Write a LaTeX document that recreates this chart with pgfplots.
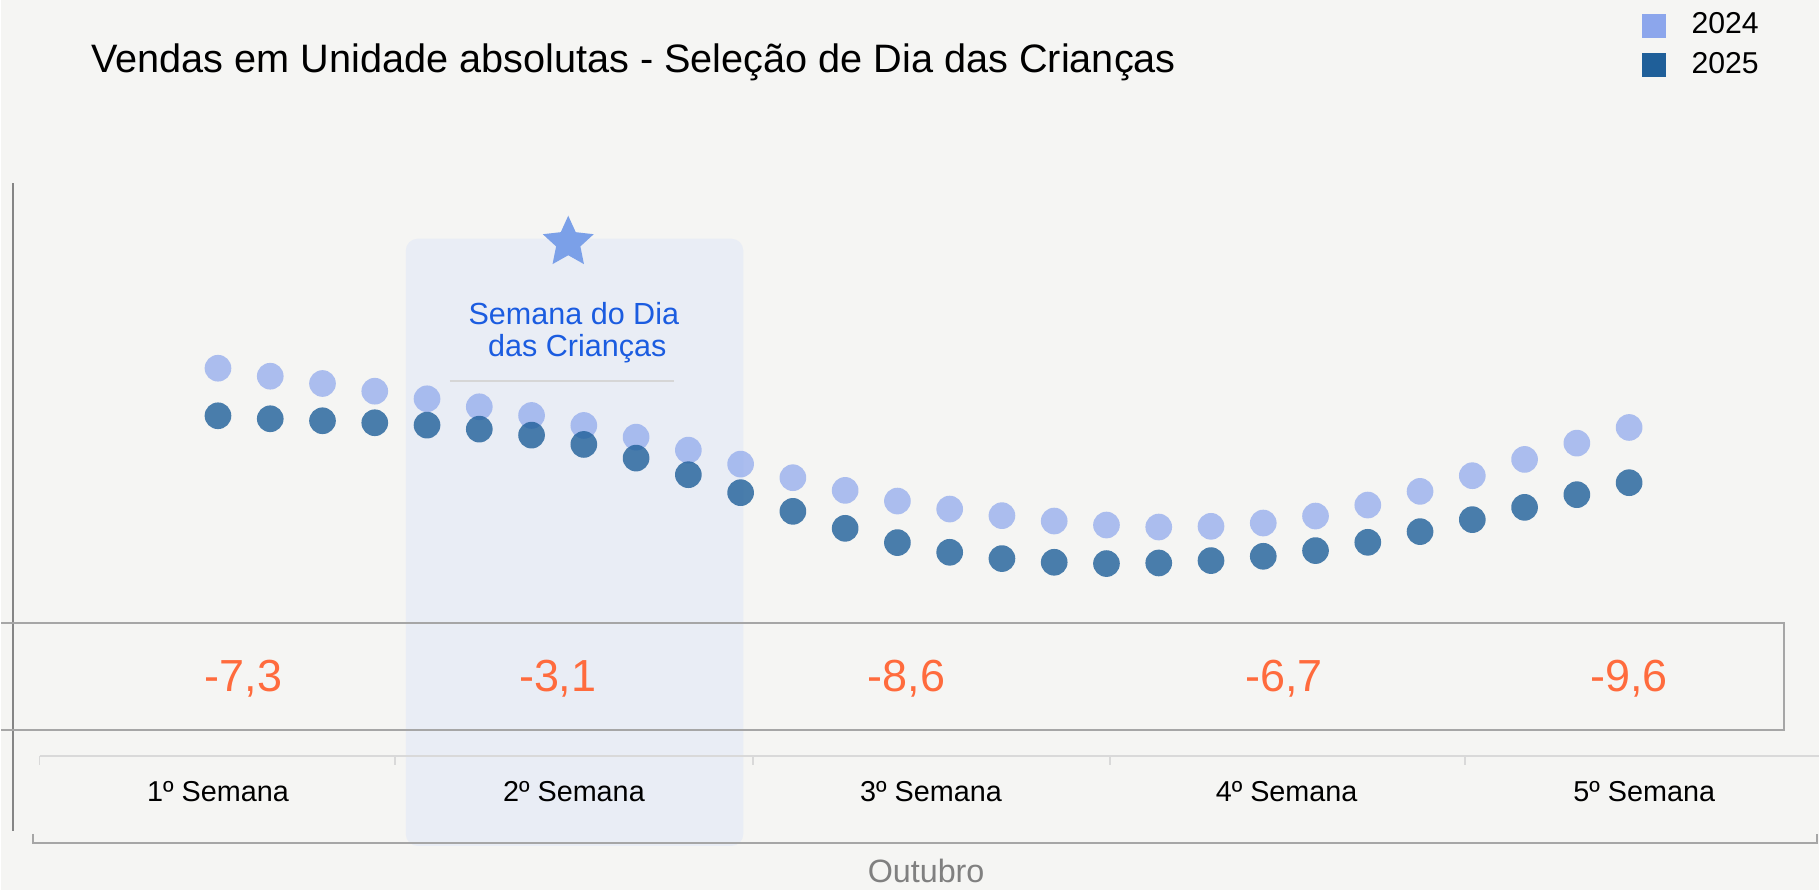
\documentclass[border=0pt]{standalone}
\usepackage{pgfplots}
\pgfplotsset{compat=1.18}
\usepackage{pgfplotstable}
\usepackage{fontspec}
\setmainfont{Liberation Sans}
\usetikzlibrary{shapes.geometric}
\definecolor{bg}{HTML}{F5F5F3}
\definecolor{hl}{HTML}{E9EDF5}
\definecolor{c24}{HTML}{8CA6EC}
\definecolor{c25}{HTML}{1F5F99}
\definecolor{starc}{HTML}{7BA0E8}
\definecolor{lbl}{HTML}{1B5CE0}
\definecolor{org}{HTML}{FF6B3D}
\definecolor{axg}{HTML}{858585}
\definecolor{boxg}{HTML}{A6A6A6}
\definecolor{wkg}{HTML}{D9D9D9}
\definecolor{sepg}{HTML}{D6D6D6}
\definecolor{outg}{HTML}{808080}

% relative daily units sold (unlabelled scale), October
\pgfplotstableread{
day y24   y25
1   522.3 474.7
2   514.3 471.7
3   507.0 469.7
4   499.3 467.7
5   491.7 465.3
6   483.7 461.3
7   475.0 455.3
8   465.0 446.0
9   453.3 432.3
10  440.3 415.7
11  426.3 397.7
12  412.7 379.0
13  400.0 362.0
14  389.3 347.7
15  381.3 338.0
16  374.7 331.7
17  369.3 328.0
18  365.3 326.7
19  363.3 327.3
20  364.0 329.7
21  367.3 334.0
22  374.3 339.7
23  385.3 348.0
24  399.0 358.7
25  414.7 370.7
26  431.0 383.0
27  447.3 395.7
28  463.0 407.7
}\data

\begin{document}
\begin{tikzpicture}
\begin{scope}[x=0.1mm, y=-0.1mm, shift={(0mm,89.1mm)}]
  % background
  \fill[bg] (0,0) rectangle (1820,891);
  % highlight of week 2
  \fill[hl, rounded corners=1.2mm] (405,239) rectangle (743,847);
  % star
  \node[star, star points=5, star point ratio=2.1, fill=starc, draw=none,
        minimum size=5.36mm, inner sep=0pt] at (567.7,242.8) {};
  % annotation
  \node[anchor=base, lbl, inner sep=0pt, font=\fontsize{8.7}{10}\selectfont] at (573.3,325) {Semana do Dia};
  \node[anchor=base, lbl, inner sep=0pt, font=\fontsize{8.7}{10}\selectfont] at (576.7,356.7) {das Crianças};
  \draw[sepg, line width=0.2mm] (449,381.7) -- (674,381.7);
  % title
  \node[anchor=base west, inner sep=0pt, font=\fontsize{11.3}{13}\selectfont] at (89.3,72.3)
     {Vendas em Unidade absolutas - Seleção de Dia das Crianças};
  % legend
  \fill[c24] (1643,14) rectangle (1666.7,37.7);
  \fill[c25] (1643,52.7) rectangle (1666.7,76.7);
  \node[anchor=base west, inner sep=0pt, font=\fontsize{8.6}{10}\selectfont] at (1691.7,33.3) {2024};
  \node[anchor=base west, inner sep=0pt, font=\fontsize{8.6}{10}\selectfont] at (1691.7,74) {2025};
  % left axis line
  \draw[axg, line width=0.2mm] (12,183.3) -- (12,832.4);
  % variation box
  \draw[boxg, line width=0.25mm] (0,624) -- (1785,624) -- (1785,730.7) -- (0,730.7);
  \begin{scope}[font=\fontsize{12.8}{14}\selectfont, org]
    \node[anchor=base, inner sep=0pt] at (242.7,692.3) {-7,3};
    \node[anchor=base, inner sep=0pt] at (557.2,692.3) {-3,1};
    \node[anchor=base, inner sep=0pt] at (906.5,692.3) {-8,6};
    \node[anchor=base, inner sep=0pt] at (1284.4,692.3) {-6,7};
    \node[anchor=base, inner sep=0pt] at (1629.7,692.3) {-9,6};
  \end{scope}
  % week axis
  \draw[wkg, line width=0.2mm] (38.3,757.3) -- (1820,757.3);
  \foreach \t in {38.3,394.7,752.2,1109.7,1466} {
    \draw[wkg, line width=0.2mm] (\t,757.3) -- (\t,766);
  }
  \begin{scope}[font=\fontsize{8.2}{10}\selectfont]
    \node[anchor=base, inner sep=0pt] at (217,802.3) {1º Semana};
    \node[anchor=base, inner sep=0pt] at (573.4,802.3) {2º Semana};
    \node[anchor=base, inner sep=0pt] at (931,802.3) {3º Semana};
    \node[anchor=base, inner sep=0pt] at (1287,802.3) {4º Semana};
    \node[anchor=base, inner sep=0pt] at (1645,802.3) {5º Semana};
  \end{scope}
  % month bracket
  \draw[boxg, line width=0.2mm] (31.3,835) -- (31.3,844) -- (1817.7,844) -- (1817.7,835);
  \node[anchor=base, inner sep=0pt, outg, font=\fontsize{9.2}{11}\selectfont] at (926,883.3) {Outubro};
\end{scope}

\begin{axis}[
  at={(0mm,0mm)}, anchor=south west,
  scale only axis, width=182mm, height=89.1mm,
  xmin=-3.1468, xmax=31.633, ymin=0, ymax=891,
  hide axis, clip=false]
  \addplot[only marks, mark=*, mark size=3.8pt, color=c24,
    mark options={fill=c24, fill opacity=0.7, draw opacity=0}] table[x=day, y=y24] {\data};
  \addplot[only marks, mark=*, mark size=3.8pt, color=c25,
    mark options={fill=c25, fill opacity=0.8, draw opacity=0}] table[x=day, y=y25] {\data};
\end{axis}
\end{tikzpicture}
\end{document}
